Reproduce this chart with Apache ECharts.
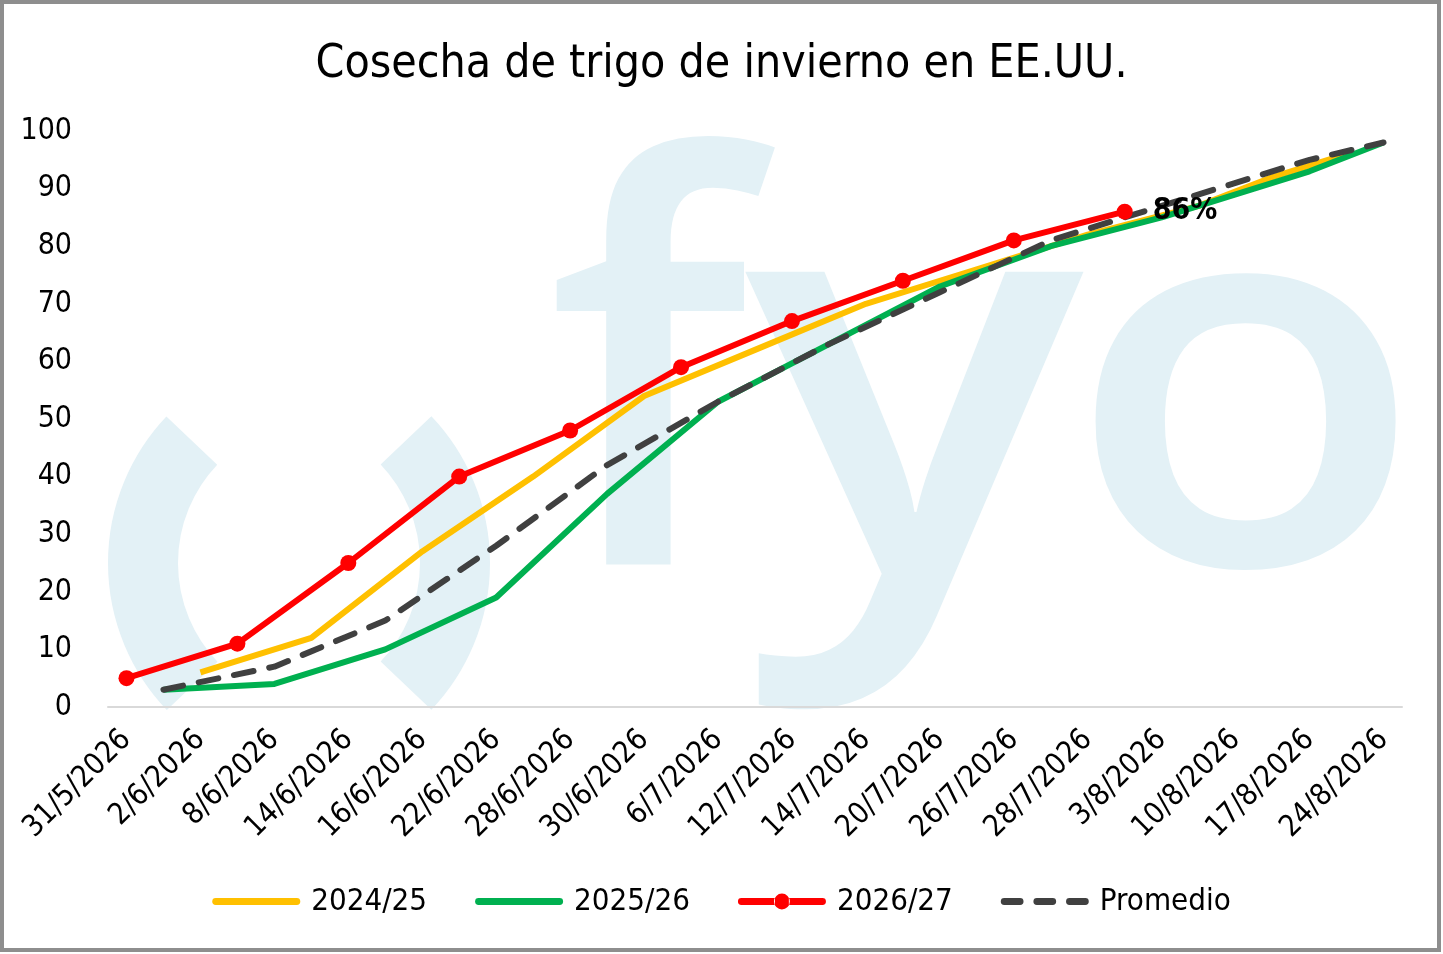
<!DOCTYPE html>
<html>
<head>
<meta charset="utf-8">
<script src="https://cdn.jsdelivr.net/npm/echarts@6/dist/echarts.min.js"></script>
<style>
  html, body { margin: 0; padding: 0; background: #fff; }
  #chart { width: 1443px; height: 954px; }
</style>
</head>
<body>
<div id="chart"></div>
<script>
// fechas del eje (se muestran una si y una no)
var fechas = ["31/5/2026", "1/6/2026", "2/6/2026", "7/6/2026", "8/6/2026", "9/6/2026",
  "14/6/2026", "15/6/2026", "16/6/2026", "21/6/2026", "22/6/2026", "23/6/2026",
  "28/6/2026", "29/6/2026", "30/6/2026", "5/7/2026", "6/7/2026", "7/7/2026",
  "12/7/2026", "13/7/2026", "14/7/2026", "19/7/2026", "20/7/2026", "21/7/2026",
  "26/7/2026", "27/7/2026", "28/7/2026", "2/8/2026", "3/8/2026", "4/8/2026",
  "10/8/2026", "11/8/2026", "17/8/2026", "18/8/2026", "24/8/2026"];

var c2024 = [null, null, 6, null, null, 12, null, null, 27, null, null, 40,
  null, null, 54, null, null, 62, null, null, 70, null, null, 76,
  null, null, 82, null, null, 87, null, 92, null, 96, null];
var c2025 = [null, 3, null, null, 4, null, null, 10, null, null, 19, null,
  null, 37, null, null, 53, null, null, 63, null, null, 73, null,
  null, 80, null, null, 85, null, 89, null, 93, null, 98];
var c2026 = [5, null, null, 11, null, null, 25, null, null, 40, null, null,
  48, null, null, 59, null, null, 67, null, null, 74, null, null,
  81, null, null, 86, null, null, null, null, null, null, null];
var promedio = [null, 3, null, null, 7, null, null, 15, null, null, 28, null,
  null, 42, null, null, 53, null, null, 63, null, null, 72, null,
  null, 81, null, null, 87, null, 91, null, 95, null, 98];

var fuente = '"Liberation Sans Narrow", "DejaVu Sans Condensed", "Noto Sans", sans-serif';
var marca = '#e3f1f6';
var ultimo = 27;

// iconos de leyenda (linea gruesa, linea con punto, linea cortada)
var iconoLinea = 'path://M3,4.5H85A3.5,3.5 0 0 1 85,11.5H3A3.5,3.5 0 0 1 3,4.5Z';
var iconoPunto = 'path://M3,4.5H37V11.5H3A3.5,3.5 0 0 1 3,4.5Z M51,4.5H85A3.5,3.5 0 0 1 85,11.5H51Z M36,8A8,8 0 1,0 52,8A8,8 0 1,0 36,8Z';
var iconoCorte = 'path://M3,4.5H19A3.5,3.5 0 0 1 19,11.5H3A3.5,3.5 0 0 1 3,4.5Z M36,4.5H52A3.5,3.5 0 0 1 52,11.5H36A3.5,3.5 0 0 1 36,4.5Z M69,4.5H85A3.5,3.5 0 0 1 85,11.5H69A3.5,3.5 0 0 1 69,4.5Z';

var chart = echarts.init(document.getElementById('chart'));

function letra(t, x, y, sx, sy) {
  return { type: 'text', z: 0, x: x, y: y, scaleX: sx, scaleY: sy,
    style: { text: t, x: 0, y: 0, fontSize: 560, fontWeight: 600,
      fontFamily: '"Open Sans", sans-serif', fill: marca, verticalAlign: 'middle', align: 'left' } };
}

var option = {
  backgroundColor: '#fff',
  animation: false,
  title: {
    text: 'Cosecha de trigo de invierno en EE.UU.',
    left: 'center',
    top: 37,
    textStyle: { fontFamily: fuente, fontSize: 46, fontWeight: 'normal', color: '#000' }
  },
  graphic: [
    // marco
    { type: 'rect', z: 100, shape: { x: 2, y: 2, width: 1437, height: 948 },
      style: { fill: 'none', stroke: '#8e8e8e', lineWidth: 4 } },
    // logo de fondo
    { type: 'arc', z: 0, shape: { cx: 321, cy: 563, r: 178, startAngle: 2.38, endAngle: 3.90, clockwise: true },
      style: { fill: 'none', stroke: marca, lineWidth: 70, lineCap: 'butt' } },
    { type: 'arc', z: 0, shape: { cx: 277, cy: 563, r: 178, startAngle: -0.76, endAngle: 0.76, clockwise: true },
      style: { fill: 'none', stroke: marca, lineWidth: 70, lineCap: 'butt' } },
    letra('f', 547, 405, 1, 1),
    letra('y', 745, 415, 1.13, 1),
    letra('o', 1066, 414, 1.05, 0.946)
  ],
  legend: {
    bottom: 32,
    left: 'center',
    itemWidth: 88,
    itemHeight: 16,
    itemGap: 48,
    symbolKeepAspect: true,
    textStyle: { fontFamily: fuente, fontSize: 31, color: '#000', padding: [0, 0, 0, 6] },
    data: [
      { name: '2024/25', icon: iconoLinea },
      { name: '2025/26', icon: iconoLinea },
      { name: '2026/27', icon: iconoPunto },
      { name: 'Promedio', icon: iconoCorte }
    ]
  },
  grid: { left: 108, right: 41, top: 131, bottom: 247 },
  xAxis: {
    type: 'category',
    data: fechas,
    boundaryGap: true,
    axisLine: { lineStyle: { color: '#d9d9d9', width: 2 } },
    axisTick: { show: false },
    axisLabel: { interval: 1, rotate: 45, margin: 28, fontFamily: fuente, fontSize: 30, color: '#000' }
  },
  yAxis: {
    type: 'value',
    min: 0,
    max: 100,
    interval: 10,
    axisLine: { show: false },
    axisTick: { show: false },
    splitLine: { show: false },
    axisLabel: { margin: 36, fontFamily: fuente, fontSize: 30, color: '#000' }
  },
  series: [
    { name: '2024/25', type: 'line', data: c2024, connectNulls: true, symbol: 'none',
      lineStyle: { color: '#ffc000', width: 6 }, itemStyle: { color: '#ffc000' }, z: 2 },
    { name: '2025/26', type: 'line', data: c2025, connectNulls: true, symbol: 'none',
      lineStyle: { color: '#00b050', width: 6 }, itemStyle: { color: '#00b050' }, z: 3 },
    { name: '2026/27', type: 'line', data: c2026, connectNulls: true, symbol: 'circle', symbolSize: 16,
      lineStyle: { color: '#ff0000', width: 6 }, itemStyle: { color: '#ff0000' }, z: 5,
      label: {
        show: true, position: 'right', distance: 20,
        fontFamily: fuente, fontSize: 30, fontWeight: 'bold', color: '#000',
        formatter: function (p) { return p.dataIndex === ultimo ? p.value + '%' : ''; }
      } },
    { name: 'Promedio', type: 'line', data: promedio, connectNulls: true, symbol: 'none',
      lineStyle: { color: '#404040', width: 6, type: [20, 16], cap: 'round' },
      itemStyle: { color: '#404040' }, z: 4 }
  ]
};

chart.setOption(option);
</script>
</body>
</html>
